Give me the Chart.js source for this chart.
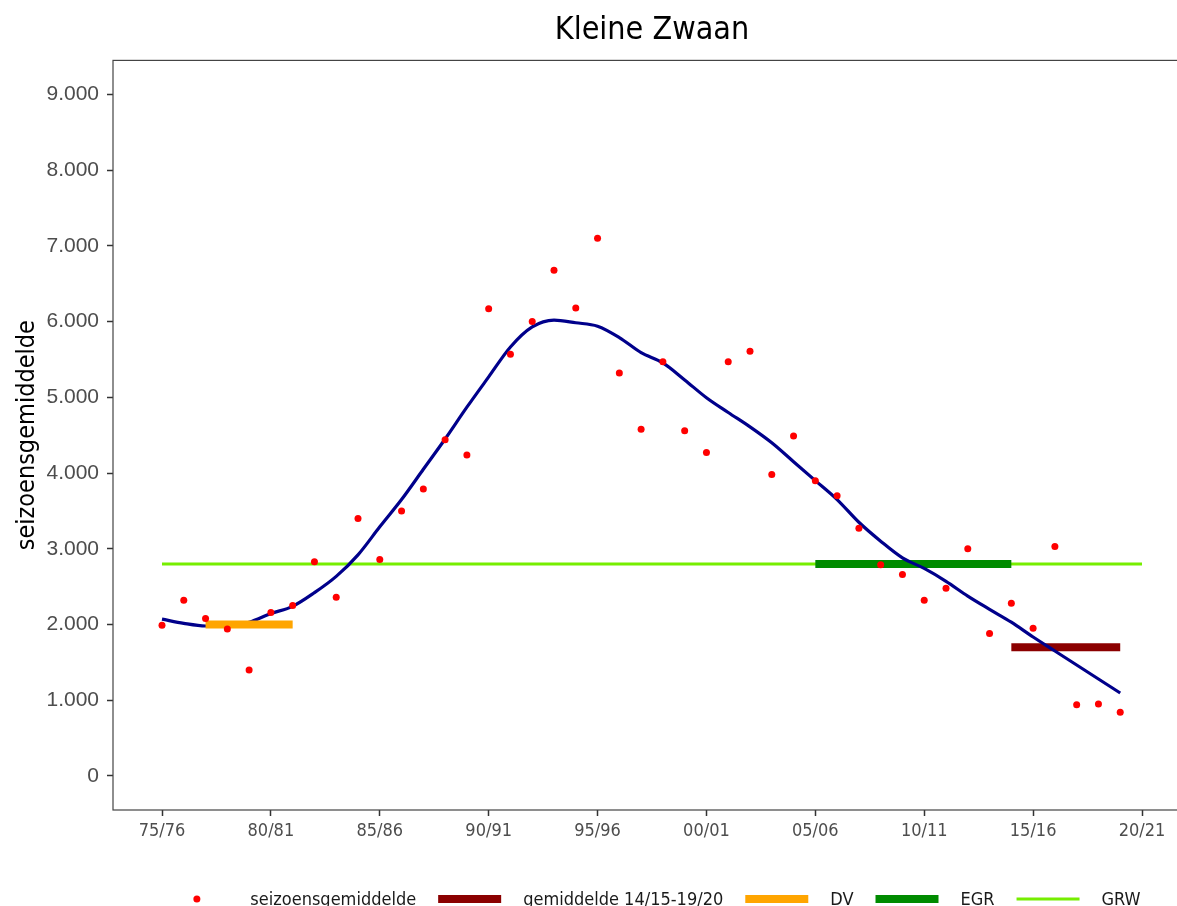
<!DOCTYPE html>
<html>
<head>
<meta charset="utf-8">
<title>Kleine Zwaan</title>
<script src="https://cdn.jsdelivr.net/npm/chart.js@4.4.1/dist/chart.umd.min.js"></script>
<style>
    html, body { margin: 0; padding: 0; background: #fff; overflow: hidden; }
    #wrap { width: 1210px; height: 930px; }
</style>
</head>
<body>
<div id="wrap"><canvas id="chart" width="1210" height="930"></canvas></div>
<script>
// seizoenen (index 0 = 75/76)
const seasons = ['75/76', '76/77', '77/78', '78/79', '79/80', '80/81', '81/82', '82/83', '83/84', '84/85',
    '85/86', '86/87', '87/88', '88/89', '89/90', '90/91', '91/92', '92/93', '93/94', '94/95',
    '95/96', '96/97', '97/98', '98/99', '99/00', '00/01', '01/02', '02/03', '03/04', '04/05',
    '05/06', '06/07', '07/08', '08/09', '09/10', '10/11', '11/12', '12/13', '13/14', '14/15',
    '15/16', '16/17', '17/18', '18/19', '19/20', '20/21'];

// seizoensgemiddelde per seizoen 75/76 - 19/20
const seasonAvg = [1990, 2320, 2080, 1940, 1400, 2160, 2250, 2830, 2360, 3400,
    2860, 3500, 3790, 4440, 4240, 6170, 5570, 6000, 6680, 6180,
    7100, 5320, 4580, 5470, 4560, 4270, 5470, 5610, 3980, 4490,
    3900, 3700, 3270, 2790, 2660, 2320, 2480, 3000, 1880, 2280,
    1950, 3030, 940, 950, 840];

// trendlijn (gladgestreken)
const trend = [2070, 2015, 1980, 1978, 2030, 2145, 2240, 2420, 2635, 2920,
    3290, 3650, 4050, 4450, 4870, 5270, 5665, 5930, 6020, 5985,
    5940, 5790, 5590, 5455, 5230, 4995, 4800, 4610, 4400, 4150,
    3900, 3650, 3350, 3100, 2880, 2740, 2570, 2375, 2200, 2030,
    1835, 1650, 1465, 1280, 1095];

const yTicks = [0, 1000, 2000, 3000, 4000, 5000, 6000, 7000, 8000, 9000];
const xTickIdx = [0, 5, 10, 15, 20, 25, 30, 35, 40, 45];

// referentieniveaus: [van seizoen, tot seizoen] en waarde
const grwRange = [0, 45], grwValue = 2800;
const egrRange = [30, 39], egrValue = 2800;
const dvRange = [2, 6], dvValue = 2000;
const meanRange = [39, 44], meanValue = 1700;

const condensed = "'DejaVu Sans Condensed', 'DejaVu Sans', sans-serif";

function fmt(v) {
    return String(v).replace(/\B(?=(\d{3})+(?!\d))/g, '.');
}

function segment(range, value) {
    return range.map(x => ({x: x, y: value}));
}

const datasets = [
    {
        label: 'seizoensgemiddelde',
        data: seasonAvg.map((v, i) => ({x: i, y: v})),
        showLine: false,
        pointRadius: 3.5,
        pointBackgroundColor: '#FF0000',
        pointBorderWidth: 0,
        order: 0
    },
    {
        label: 'DV',
        data: segment(dvRange, dvValue),
        borderColor: '#FFA500',
        borderWidth: 8,
        borderCapStyle: 'butt',
        pointRadius: 0,
        order: 1
    },
    {
        label: 'trend',
        data: trend.map((v, i) => ({x: i, y: v})),
        borderColor: '#00008B',
        borderWidth: 3.2,
        pointRadius: 0,
        cubicInterpolationMode: 'monotone',
        order: 2
    },
    {
        label: 'gemiddelde 14/15-19/20',
        data: segment(meanRange, meanValue),
        borderColor: '#8B0000',
        borderWidth: 8,
        borderCapStyle: 'butt',
        pointRadius: 0,
        order: 3
    },
    {
        label: 'EGR',
        data: segment(egrRange, egrValue),
        borderColor: '#008B00',
        borderWidth: 8,
        borderCapStyle: 'butt',
        pointRadius: 0,
        order: 4
    },
    {
        label: 'GRW',
        data: segment(grwRange, grwValue),
        borderColor: '#76EE00',
        borderWidth: 3,
        borderCapStyle: 'butt',
        pointRadius: 0,
        order: 5
    }
];

// volgorde in de legenda
const legendOrder = ['seizoensgemiddelde', 'gemiddelde 14/15-19/20', 'DV', 'EGR', 'GRW'];

const panelBorder = {
    id: 'panelBorder',
    afterDatasetsDraw(chart) {
        const a = chart.chartArea, ctx = chart.ctx;
        ctx.save();
        ctx.strokeStyle = '#444';
        ctx.lineWidth = 1.2;
        ctx.strokeRect(a.left, a.top, a.right - a.left, a.bottom - a.top);
        ctx.restore();
    }
};

const bottomLegend = {
    id: 'bottomLegend',
    afterDraw(chart) {
        const ctx = chart.ctx, a = chart.chartArea;
        const keyW = 63, gap = 22;
        ctx.save();
        ctx.font = '18px ' + condensed;
        let items = legendOrder.map(l => chart.data.datasets.find(d => d.label === l));
        let total = 0;
        items.forEach((d, k) => {
            total += keyW + gap + ctx.measureText(d.label).width;
            if (k < items.length - 1) total += gap;
        });
        let x = 653 - total / 2;
        const y = a.bottom + 89;
        items.forEach(d => {
            if (d.showLine === false) {
                ctx.fillStyle = d.pointBackgroundColor;
                ctx.beginPath();
                ctx.arc(x + keyW / 2, y, 3.5, 0, Math.PI * 2);
                ctx.fill();
            } else {
                ctx.strokeStyle = d.borderColor;
                ctx.lineWidth = d.borderWidth;
                ctx.lineCap = 'butt';
                ctx.beginPath();
                ctx.moveTo(x, y);
                ctx.lineTo(x + keyW, y);
                ctx.stroke();
            }
            x += keyW + gap;
            ctx.fillStyle = '#1A1A1A';
            ctx.textBaseline = 'alphabetic';
            ctx.fillText(d.label, x, y + 6);
            x += ctx.measureText(d.label).width + gap;
        });
        ctx.restore();
    }
};

let ctx = document.getElementById('chart').getContext('2d');
let chart = new Chart(ctx, {
    type: 'line',
    data: {datasets: datasets},
    options: {
        responsive: false,
        animation: false,
        devicePixelRatio: 1,
        layout: {padding: {left: 0, right: 19, top: 0, bottom: 0}},
        plugins: {
            legend: {display: false},
            tooltip: {enabled: false},
            title: {
                display: true,
                text: 'Kleine Zwaan',
                fullSize: false,
                color: '#000',
                font: {family: condensed, size: 32, weight: 'normal'},
                padding: {top: 11, bottom: 11}
            }
        },
        scales: {
            x: {
                type: 'linear',
                min: -2.25,
                max: 47.25,
                afterBuildTicks: s => { s.ticks = xTickIdx.map(v => ({value: v})); },
                afterFit: s => { s.height = 120; },
                ticks: {
                    autoSkip: false,
                    maxRotation: 0,
                    color: '#4D4D4D',
                    font: {family: condensed, size: 18},
                    padding: 5,
                    callback: v => seasons[v]
                },
                grid: {drawOnChartArea: false, drawTicks: true, tickLength: 6, tickWidth: 1.5, tickColor: '#333'},
                border: {display: false}
            },
            y: {
                type: 'linear',
                min: -450,
                max: 9450,
                afterBuildTicks: s => { s.ticks = yTicks.map(v => ({value: v})); },
                afterFit: s => { s.width = 113; },
                ticks: {
                    color: '#4D4D4D',
                    font: {family: "'Liberation Sans', Arial, sans-serif", size: 21},
                    padding: 8,
                    callback: v => fmt(v)
                },
                grid: {drawOnChartArea: false, drawTicks: true, tickLength: 6, tickWidth: 1.5, tickColor: '#333'},
                border: {display: false},
                title: {
                    display: true,
                    text: 'seizoensgemiddelde',
                    color: '#000',
                    font: {family: condensed, size: 25},
                    padding: {top: 12, bottom: 0}
                }
            }
        }
    },
    plugins: [panelBorder, bottomLegend]
});
</script>
</body>
</html>
